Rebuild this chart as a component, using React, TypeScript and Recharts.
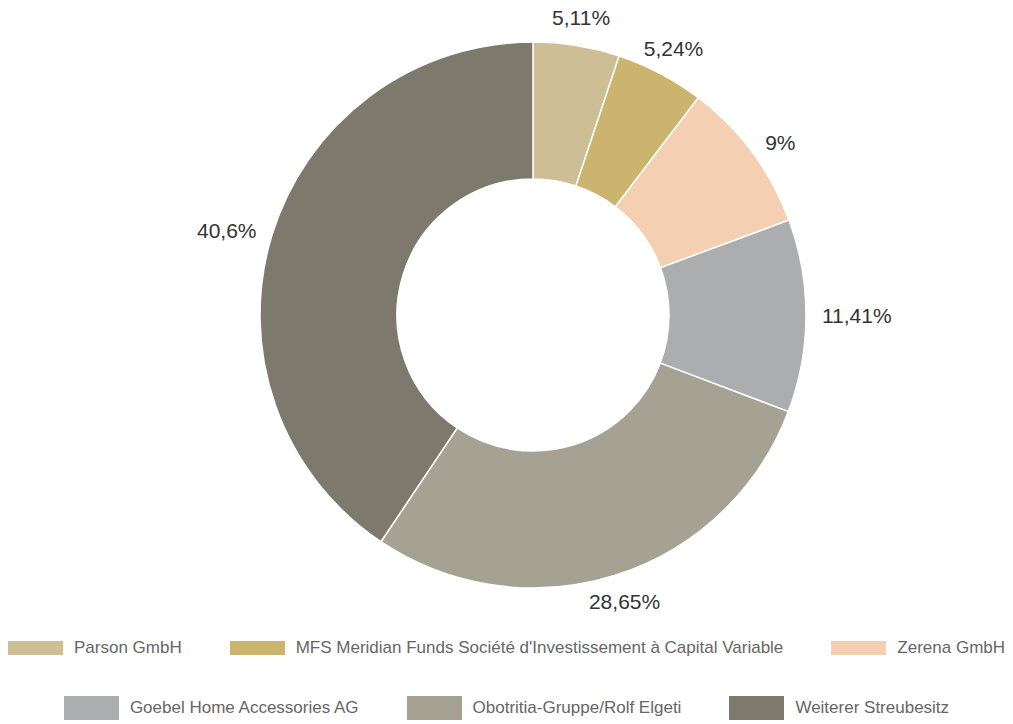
import { PieChart, Pie, Cell, Legend } from "recharts";

const names = [
  "Parson GmbH",
  "MFS Meridian Funds Société d'Investissement à Capital Variable",
  "Zerena GmbH",
  "Goebel Home Accessories AG",
  "Obotritia-Gruppe/Rolf Elgeti",
  "Weiterer Streubesitz",
];
const shares = [5.11, 5.24, 9, 11.41, 28.65, 40.6];
const colors = ["#cdbe96", "#cbb46e", "#f5cfb2", "#acadaf", "#a5a193", "#7d796c"];

const data = names.map((name, i) => ({ name, value: shares[i] }));

const RAD = Math.PI / 180;
const fmt = (v: number) => String(v).replace(".", ",") + "%";

const renderLabel = (props: any) => {
  const { cx, cy, midAngle, outerRadius, value } = props;
  const sin = Math.sin(-midAngle * RAD);
  const cos = Math.cos(-midAngle * RAD);
  let anchor = "middle";
  let r = outerRadius + 28;
  if (cos > 0.5) {
    anchor = "start";
    r = outerRadius + 16;
  } else if (cos < -0.5) {
    anchor = "end";
    r = outerRadius + 16;
  }
  const x = cx + r * cos;
  const y = cy + r * sin;
  return (
    <text
      x={x}
      y={y}
      textAnchor={anchor}
      dominantBaseline="central"
      fill="#333"
      fontSize={21}
      fontFamily="'Liberation Sans', Arial, sans-serif"
    >
      {fmt(value)}
    </text>
  );
};

const legendRows = [[0, 1, 2], [3, 4, 5]];

const renderLegend = () => (
  <div style={{ width: 1013, fontFamily: "'Liberation Sans', Arial, sans-serif", fontSize: 17, color: "#666" }}>
    {legendRows.map((row, ri) => (
      <div
        key={ri}
        style={{
          display: "flex",
          justifyContent: "center",
          alignItems: "center",
          gap: 48,
          height: ri === 0 ? 40 : 30,
          marginTop: ri === 0 ? 0 : 25,
        }}
      >
        {row.map((i) => (
          <div key={i} style={{ display: "flex", alignItems: "center" }}>
            <span
              style={{
                display: "inline-block",
                width: 55,
                height: ri === 0 ? 14 : 24,
                background: colors[i],
                marginRight: 11,
              }}
            />
            <span>{names[i]}</span>
          </div>
        ))}
      </div>
    ))}
  </div>
);

export default function App() {
  return (
    <div style={{ position: "absolute", left: 0, top: 0, background: "#fff" }}>
      <PieChart width={1013} height={724} margin={{ top: 0, right: 0, bottom: 0, left: 0 }}>
        <Pie
          data={data}
          dataKey="value"
          nameKey="name"
          cx={533}
          cy={315}
          innerRadius={136}
          outerRadius={273}
          startAngle={90}
          endAngle={-270}
          stroke="#fff"
          strokeWidth={1.5}
          label={renderLabel}
          labelLine={false}
          isAnimationActive={false}
        >
          {data.map((d, i) => (
            <Cell key={d.name} fill={colors[i]} />
          ))}
        </Pie>
        <Legend
          content={renderLegend}
          wrapperStyle={{ position: "absolute", left: 0, top: 628, width: 1013 }}
        />
      </PieChart>
    </div>
  );
}
